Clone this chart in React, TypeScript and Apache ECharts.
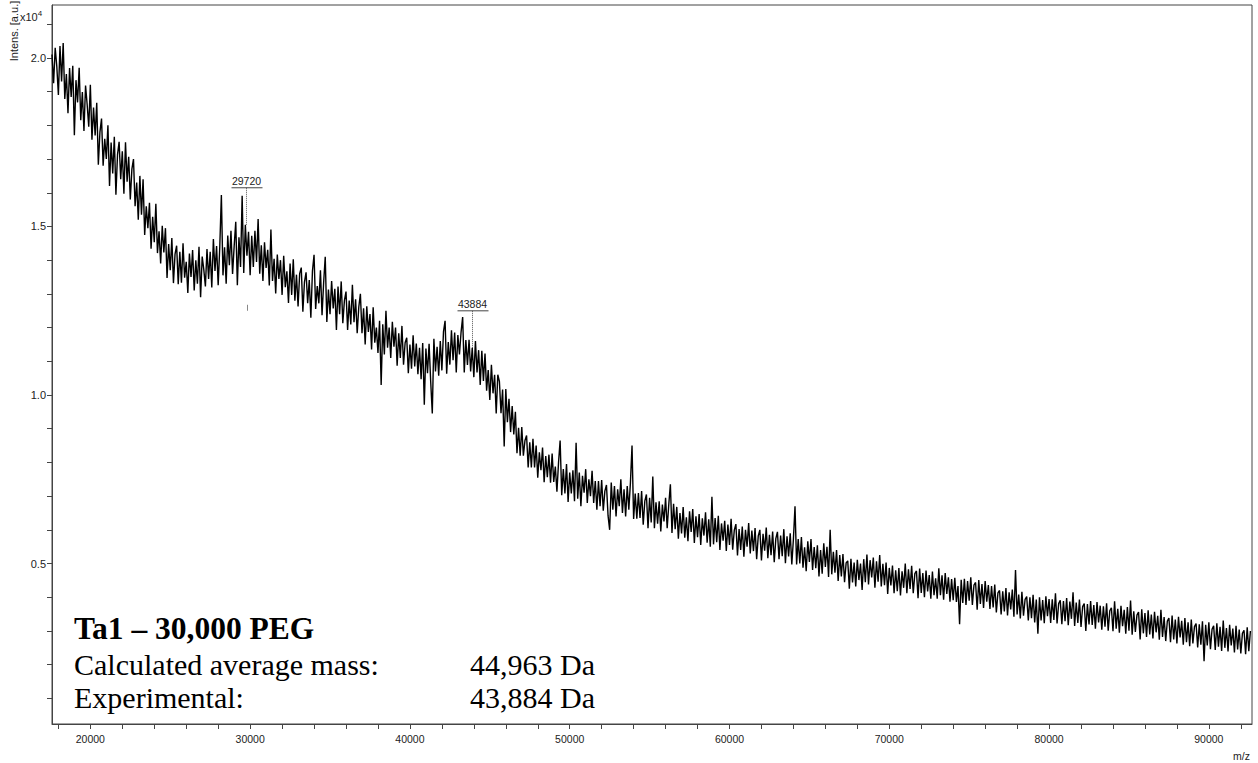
import React, { useEffect, useRef } from "react";
import * as echarts from "echarts";

// m/z sampling grid of the spectrum
const MZ_START = 17600;
const MZ_STEP = 100;

// Intensity in units of 10^4 a.u.
const INTENSITY = [
  2.010, 1.925, 2.030, 1.975, 1.890, 2.035, 1.930, 2.044, 1.878, 1.952,
  1.836, 1.970, 1.884, 1.977, 1.771, 1.934, 1.868, 1.971, 1.815, 1.899,
  1.783, 1.918, 1.862, 1.796, 1.920, 1.757, 1.853, 1.770, 1.867, 1.683,
  1.780, 1.820, 1.680, 1.760, 1.700, 1.800, 1.620, 1.749, 1.657, 1.766,
  1.594, 1.713, 1.751, 1.640, 1.723, 1.597, 1.750, 1.633, 1.707, 1.580,
  1.670, 1.700, 1.560, 1.630, 1.520, 1.650, 1.535, 1.640, 1.475, 1.560,
  1.495, 1.570, 1.434, 1.529, 1.453, 1.567, 1.421, 1.486, 1.390, 1.502,
  1.423, 1.495, 1.347, 1.448, 1.370, 1.466, 1.332, 1.418, 1.443, 1.329,
  1.425, 1.333, 1.450, 1.348, 1.395, 1.303, 1.420, 1.350, 1.430, 1.310,
  1.400, 1.330, 1.440, 1.290, 1.411, 1.372, 1.322, 1.433, 1.344, 1.425,
  1.319, 1.463, 1.368, 1.442, 1.326, 1.440, 1.593, 1.355, 1.438, 1.330,
  1.473, 1.385, 1.487, 1.359, 1.441, 1.514, 1.326, 1.468, 1.380, 1.591,
  1.362, 1.505, 1.413, 1.484, 1.355, 1.472, 1.380, 1.487, 1.395, 1.522,
  1.360, 1.444, 1.338, 1.453, 1.377, 1.431, 1.325, 1.491, 1.338, 1.404,
  1.301, 1.417, 1.344, 1.400, 1.297, 1.413, 1.320, 1.367, 1.273, 1.390,
  1.297, 1.403, 1.280, 1.357, 1.263, 1.360, 1.378, 1.247, 1.335, 1.364,
  1.272, 1.341, 1.229, 1.368, 1.416, 1.255, 1.323, 1.272, 1.370, 1.237,
  1.333, 1.410, 1.217, 1.313, 1.240, 1.338, 1.257, 1.315, 1.193, 1.322,
  1.240, 1.337, 1.213, 1.280, 1.307, 1.193, 1.280, 1.209, 1.327, 1.216,
  1.284, 1.183, 1.261, 1.300, 1.183, 1.257, 1.150, 1.263, 1.187, 1.240,
  1.135, 1.260, 1.155, 1.200, 1.125, 1.220, 1.030, 1.210, 1.120, 1.250,
  1.140, 1.200, 1.110, 1.217, 1.143, 1.200, 1.087, 1.183, 1.110, 1.205,
  1.090, 1.155, 1.170, 1.065, 1.150, 1.078, 1.177, 1.085, 1.153, 1.062,
  1.140, 1.047, 1.154, 0.971, 1.138, 1.065, 1.152, 1.040, 0.945, 1.167,
  1.070, 1.143, 1.057, 1.160, 1.073, 1.187, 1.220, 1.063, 1.157, 1.090,
  1.192, 1.103, 1.185, 1.067, 1.178, 1.120, 1.186, 1.231, 1.067, 1.163,
  1.089, 1.164, 1.070, 1.140, 1.053, 1.160, 1.067, 1.133, 1.030, 1.131,
  1.042, 1.123, 1.013, 1.074, 0.985, 1.090, 1.005, 1.060, 0.945, 1.060,
  1.040, 0.946, 1.016, 0.847, 1.018, 0.919, 0.989, 0.890, 0.967, 0.883,
  0.950, 0.827, 0.903, 0.820, 0.905, 0.820, 0.865, 0.880, 0.785, 0.860,
  0.785, 0.870, 0.785, 0.850, 0.755, 0.830, 0.777, 0.844, 0.741, 0.819,
  0.756, 0.823, 0.740, 0.826, 0.742, 0.788, 0.713, 0.799, 0.865, 0.703,
  0.780, 0.708, 0.795, 0.683, 0.770, 0.708, 0.777, 0.685, 0.858, 0.692,
  0.770, 0.670, 0.760, 0.710, 0.780, 0.680, 0.750, 0.700, 0.775, 0.680,
  0.745, 0.660, 0.745, 0.670, 0.748, 0.657, 0.715, 0.733, 0.642, 0.600,
  0.740, 0.660, 0.730, 0.640, 0.720, 0.670, 0.750, 0.650, 0.720, 0.640,
  0.730, 0.660, 0.740, 0.850, 0.632, 0.708, 0.633, 0.709, 0.635, 0.715,
  0.615, 0.685, 0.705, 0.605, 0.695, 0.622, 0.758, 0.605, 0.682, 0.618,
  0.685, 0.595, 0.675, 0.625, 0.695, 0.605, 0.675, 0.735, 0.591, 0.677,
  0.602, 0.668, 0.574, 0.650, 0.589, 0.668, 0.577, 0.637, 0.566, 0.655,
  0.594, 0.662, 0.561, 0.640, 0.578, 0.647, 0.555, 0.634, 0.583, 0.652,
  0.562, 0.631, 0.550, 0.698, 0.557, 0.635, 0.563, 0.642, 0.540, 0.619,
  0.568, 0.627, 0.537, 0.616, 0.555, 0.633, 0.541, 0.599, 0.617, 0.524,
  0.602, 0.540, 0.610, 0.520, 0.600, 0.550, 0.620, 0.530, 0.598, 0.537,
  0.605, 0.513, 0.582, 0.600, 0.509, 0.588, 0.538, 0.607, 0.516, 0.585,
  0.525, 0.595, 0.504, 0.574, 0.594, 0.513, 0.583, 0.522, 0.602, 0.501,
  0.581, 0.521, 0.590, 0.497, 0.573, 0.670, 0.497, 0.573, 0.500, 0.579,
  0.488, 0.548, 0.477, 0.566, 0.505, 0.573, 0.481, 0.549, 0.486, 0.554,
  0.462, 0.540, 0.470, 0.560, 0.490, 0.550, 0.460, 0.600, 0.468, 0.535,
  0.473, 0.540, 0.448, 0.525, 0.462, 0.528, 0.445, 0.502, 0.508, 0.425,
  0.514, 0.444, 0.503, 0.432, 0.511, 0.451, 0.500, 0.422, 0.513, 0.445,
  0.527, 0.438, 0.510, 0.459, 0.518, 0.428, 0.507, 0.446, 0.525, 0.432,
  0.499, 0.436, 0.503, 0.410, 0.487, 0.435, 0.494, 0.412, 0.480, 0.418,
  0.487, 0.405, 0.477, 0.428, 0.500, 0.412, 0.483, 0.425, 0.493, 0.412,
  0.470, 0.478, 0.397, 0.485, 0.413, 0.472, 0.400, 0.479, 0.417, 0.466,
  0.396, 0.476, 0.406, 0.456, 0.396, 0.486, 0.406, 0.465, 0.393, 0.472,
  0.410, 0.459, 0.387, 0.454, 0.391, 0.458, 0.386, 0.433, 0.320, 0.452,
  0.383, 0.455, 0.377, 0.448, 0.390, 0.459, 0.377, 0.436, 0.444, 0.363,
  0.451, 0.380, 0.439, 0.368, 0.448, 0.387, 0.436, 0.365, 0.433, 0.370,
  0.438, 0.355, 0.413, 0.420, 0.349, 0.418, 0.358, 0.427, 0.346, 0.415,
  0.364, 0.423, 0.342, 0.481, 0.349, 0.408, 0.337, 0.416, 0.345, 0.394,
  0.402, 0.331, 0.400, 0.338, 0.407, 0.325, 0.393, 0.292, 0.400, 0.331,
  0.392, 0.323, 0.403, 0.344, 0.395, 0.324, 0.394, 0.333, 0.412, 0.322,
  0.381, 0.391, 0.320, 0.389, 0.329, 0.398, 0.317, 0.387, 0.336, 0.415,
  0.315, 0.384, 0.324, 0.393, 0.312, 0.372, 0.381, 0.300, 0.380, 0.319,
  0.389, 0.318, 0.377, 0.307, 0.386, 0.325, 0.375, 0.304, 0.373, 0.313,
  0.382, 0.301, 0.360, 0.369, 0.299, 0.388, 0.307, 0.366, 0.295, 0.375,
  0.314, 0.363, 0.292, 0.371, 0.301, 0.390, 0.289, 0.358, 0.297, 0.347,
  0.356, 0.275, 0.364, 0.293, 0.353, 0.282, 0.361, 0.290, 0.349, 0.278,
  0.357, 0.296, 0.345, 0.274, 0.363, 0.282, 0.341, 0.270, 0.329, 0.338,
  0.267, 0.346, 0.275, 0.334, 0.263, 0.342, 0.281, 0.330, 0.259, 0.338,
  0.267, 0.326, 0.255, 0.334, 0.263, 0.313, 0.322, 0.251, 0.320, 0.259,
  0.329, 0.210, 0.318, 0.257, 0.326, 0.246, 0.305, 0.315, 0.244, 0.323,
  0.253, 0.312, 0.241, 0.331, 0.250, 0.309, 0.239, 0.318, 0.257, 0.307,
  0.236, 0.315, 0.245, 0.304, 0.233, 0.293, 0.302, 0.231, 0.311, 0.240,
  0.300,
];

// Axis ticks and labels
const X_TICKS = [
  18000, 20000, 22000, 24000, 26000, 28000, 30000, 32000, 34000, 36000, 38000,
  40000, 42000, 44000, 46000, 48000, 50000, 52000, 54000, 56000, 58000, 60000,
  62000, 64000, 66000, 68000, 70000, 72000, 74000, 76000, 78000, 80000, 82000,
  84000, 86000, 88000, 90000, 92000,
];
const X_LABELS = [20000, 30000, 40000, 50000, 60000, 70000, 80000, 90000];
const Y_TICKS = [
  0.1, 0.2, 0.3, 0.4, 0.5, 0.6, 0.7, 0.8, 0.9, 1.0, 1.1, 1.2, 1.3, 1.4, 1.5,
  1.6, 1.7, 1.8, 1.9, 2.0, 2.1,
];
const Y_LABELS = [0.5, 1.0, 1.5, 2.0];

// Labelled peaks
const PEAK_MZ = [29720, 43884];
const PEAK_INT = [1.505, 1.14];
const PEAK_TEXT = ["29720", "43884"];

// Annotation text
const TITLE = "Ta1 \u2013 30,000 PEG";
const INFO_LABELS = ["Calculated average mass:", "Experimental:"];
const INFO_VALUES = ["44,963 Da", "43,884 Da"];

const SANS = '"Liberation Sans", Arial, Helvetica, sans-serif';
const SERIF = '"Liberation Serif", "Times New Roman", Times, serif';

export default function App() {
  const ref = useRef<HTMLDivElement>(null);

  useEffect(() => {
    if (!ref.current) return;
    const chart = echarts.init(ref.current, undefined, { renderer: "svg" });
    const axisColor = "#444";
    const labelColor = "#222";
    const data = INTENSITY.map((v, i) => [MZ_START + i * MZ_STEP, v]);

    chart.setOption({
      animation: false,
      grid: {
        left: 52,
        right: 6,
        top: 5,
        bottom: 39,
        show: true,
        borderColor: axisColor,
        borderWidth: 1,
      },
      xAxis: {
        type: "value",
        min: 17600,
        max: 92700,
        axisLine: { show: true, onZero: false, lineStyle: { color: axisColor, width: 1 } },
        axisTick: {
          show: true,
          inside: false,
          length: 5,
          customValues: X_TICKS,
          lineStyle: { color: axisColor },
        },
        axisLabel: {
          customValues: X_LABELS,
          color: labelColor,
          fontSize: 10.5,
          fontFamily: SANS,
          margin: 9,
          formatter: (v: number) => String(v),
        },
        splitLine: { show: false },
      },
      yAxis: {
        type: "value",
        min: 0.024,
        max: 2.157,
        axisLine: { show: true, onZero: false, lineStyle: { color: axisColor, width: 1 } },
        axisTick: {
          show: true,
          inside: false,
          length: 5,
          customValues: Y_TICKS,
          lineStyle: { color: axisColor },
        },
        axisLabel: {
          customValues: Y_LABELS,
          color: labelColor,
          fontSize: 11,
          fontFamily: SANS,
          margin: 6,
          formatter: (v: number) => v.toFixed(1),
        },
        splitLine: { show: false },
      },
      series: [
        {
          type: "line",
          data,
          showSymbol: false,
          symbol: "none",
          silent: true,
          lineStyle: { color: "#000", width: 1.4 },
        },
      ],
    });

    const graphics: any[] = [];
    PEAK_MZ.forEach((mz, k) => {
      const p = chart.convertToPixel({ seriesIndex: 0 }, [mz, PEAK_INT[k]]) as number[];
      const px = Math.round(p[0]) + 0.5;
      const py = p[1];
      const top = py - 37;
      graphics.push({
        type: "line",
        shape: { x1: px, y1: py, x2: px, y2: top },
        style: { stroke: "#555", lineWidth: 1, lineDash: [1, 1] },
        silent: true,
      });
      graphics.push({
        type: "line",
        shape: { x1: px - 15, y1: top, x2: px + 16, y2: top },
        style: { stroke: "#444", lineWidth: 1 },
        silent: true,
      });
      graphics.push({
        type: "text",
        x: px,
        y: top - 1,
        style: {
          text: PEAK_TEXT[k],
          fill: "#222",
          font: `10.5px ${SANS}`,
          align: "center",
          verticalAlign: "bottom",
        },
        silent: true,
      });
    });

    // small marker below the first labelled peak
    {
      const p = chart.convertToPixel({ seriesIndex: 0 }, [PEAK_MZ[0], PEAK_INT[0]]) as number[];
      const px = Math.round(p[0]) + 1.5;
      graphics.push({
        type: "line",
        shape: { x1: px, y1: p[1] + 80, x2: px, y2: p[1] + 86 },
        style: { stroke: "#888", lineWidth: 1 },
        silent: true,
      });
    }

    // axis titles
    graphics.push({
      type: "text",
      x: 14,
      y: 31,
      rotation: Math.PI / 2,
      style: {
        text: "Intens. [a.u.]",
        fill: "#222",
        font: `11px ${SANS}`,
        align: "center",
        verticalAlign: "middle",
      },
      silent: true,
    });
    graphics.push({
      type: "text",
      x: 20,
      y: 17,
      style: {
        text: "x10{s|4}",
        fill: "#222",
        font: `11px ${SANS}`,
        align: "left",
        verticalAlign: "middle",
        rich: { s: { fontSize: 8, fontFamily: SANS, fill: "#222", padding: [0, 0, 7, 0] } },
      },
      silent: true,
    });
    graphics.push({
      type: "text",
      x: 1250,
      y: 756,
      style: {
        text: "m/z",
        fill: "#222",
        font: `10.5px ${SANS}`,
        align: "right",
        verticalAlign: "middle",
      },
      silent: true,
    });

    // annotation block
    graphics.push({
      type: "text",
      x: 74,
      y: 628,
      style: {
        text: TITLE,
        fill: "#000",
        font: `bold 31.5px ${SERIF}`,
        align: "left",
        verticalAlign: "middle",
      },
      silent: true,
    });
    INFO_LABELS.forEach((t, k) => {
      const y = 664 + k * 33;
      graphics.push({
        type: "text",
        x: 74,
        y,
        style: { text: t, fill: "#000", font: `30px ${SERIF}`, align: "left", verticalAlign: "middle" },
        silent: true,
      });
      graphics.push({
        type: "text",
        x: 470,
        y,
        style: {
          text: INFO_VALUES[k],
          fill: "#000",
          font: `30px ${SERIF}`,
          align: "left",
          verticalAlign: "middle",
        },
        silent: true,
      });
    });

    chart.setOption({ graphic: graphics });

    return () => {
      chart.dispose();
    };
  }, []);

  return (
    <div
      ref={ref}
      style={{ position: "absolute", left: 0, top: 0, width: 1258, height: 763, background: "#fff" }}
    />
  );
}
